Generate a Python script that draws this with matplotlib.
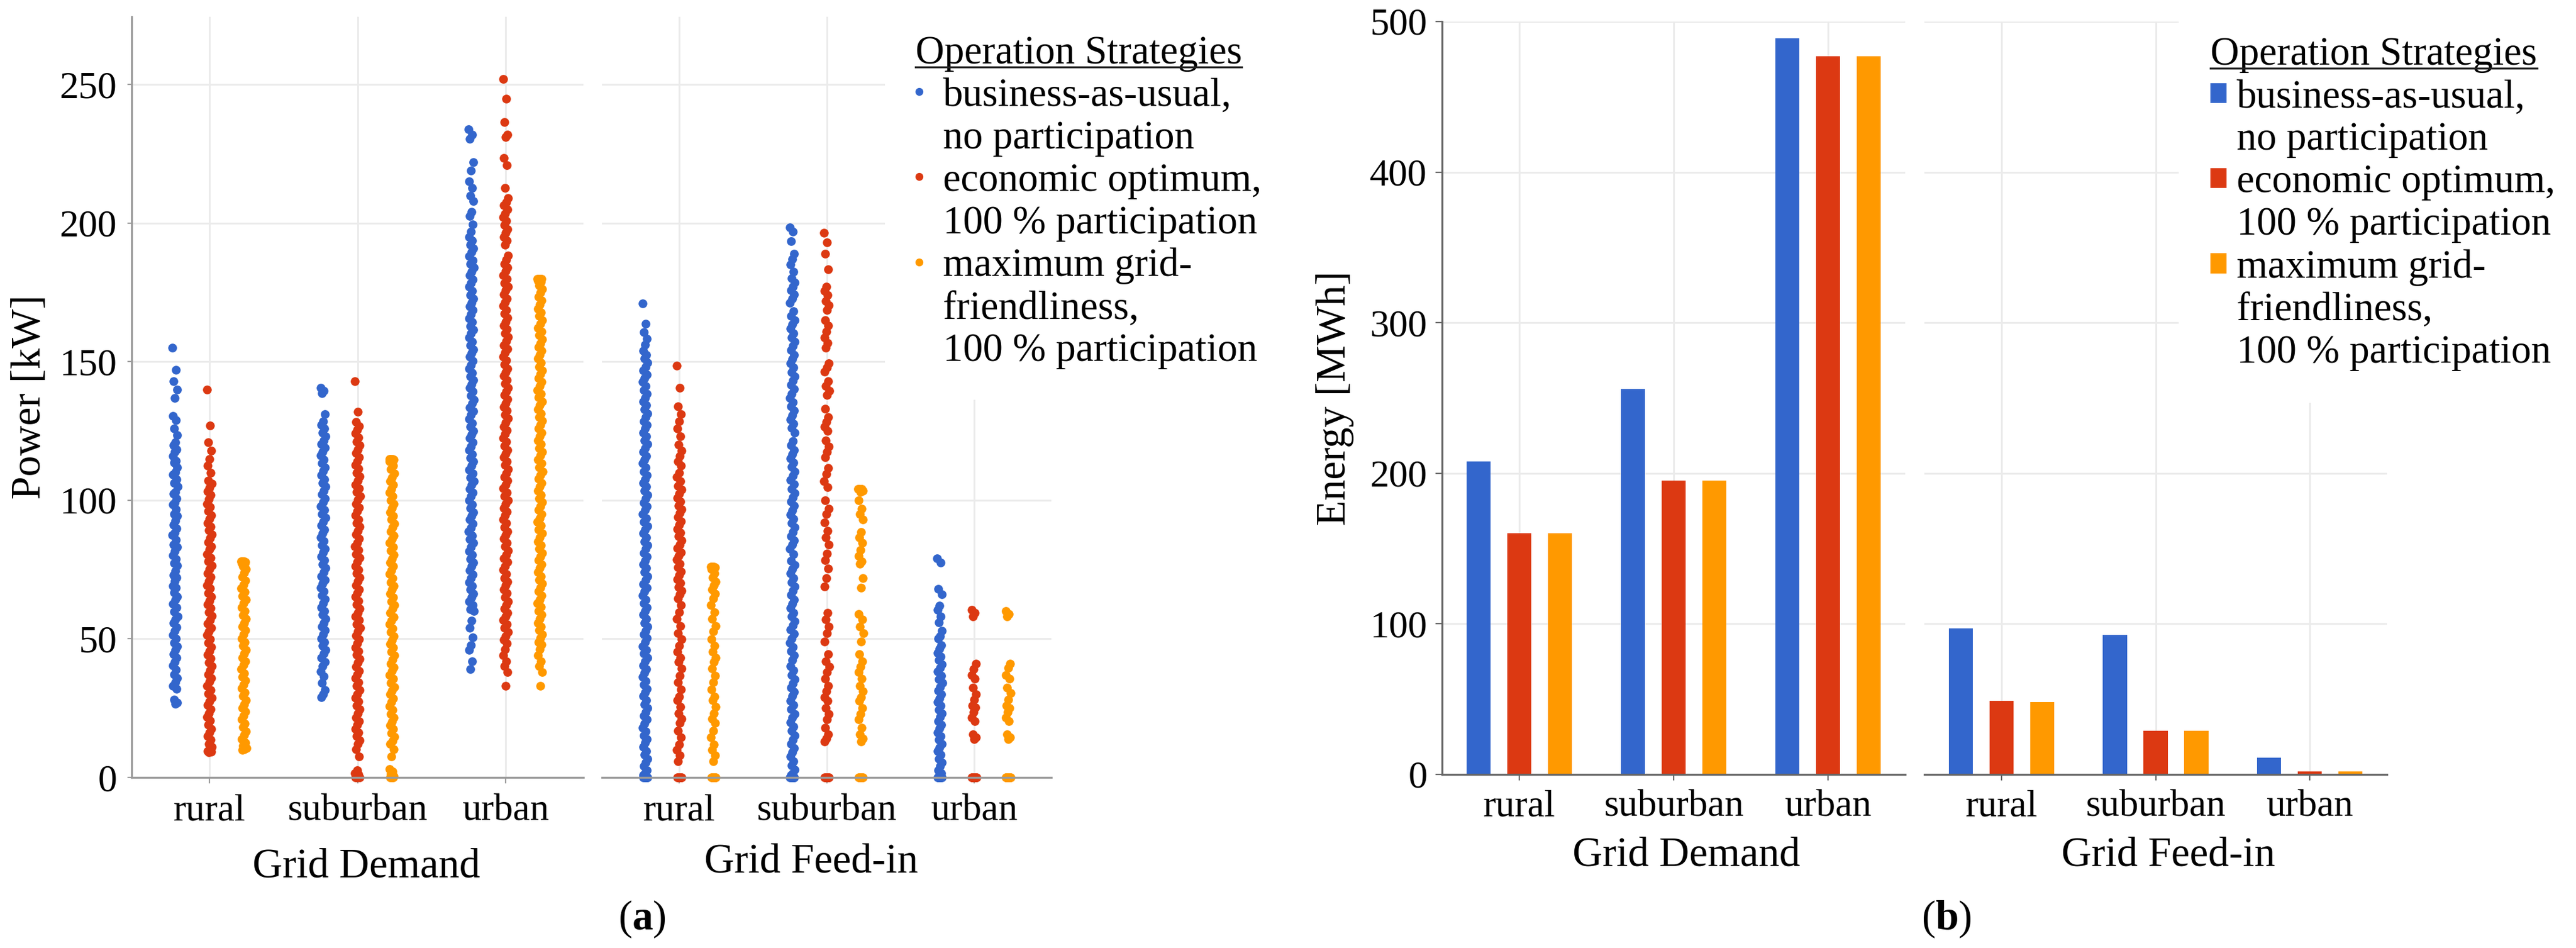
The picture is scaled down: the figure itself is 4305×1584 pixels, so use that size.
import numpy as np
import matplotlib
matplotlib.use('Agg')
import matplotlib.pyplot as plt
from matplotlib import font_manager
from matplotlib.lines import Line2D
from matplotlib.patches import Patch

# ---------------- data ----------------
categories = ['rural', 'suburban', 'urban']
colors = ['#3366CC', '#DC3912', '#FF9900']

# (a) power values [kW], grid demand
demand_rural_bau = [155, 147, 143, 140, 137, 130.5, 129, 126, 123.5, 121, 119.8, 118.4, 117.5, 115.9, 114.2, 113.6, 111.8, 110.1, 109.3, 107.6, 106.2, 104.9, 103.1, 102.4, 100.7, 99.2, 98.5, 96.8, 95.1, 94.3, 92.6, 91.2, 89.9, 88.3, 87.4, 85.8, 84.1, 83.2, 81.7, 80.1, 78.9, 77.3, 76.4, 74.6, 73.1, 72.2, 70.8, 69.1, 68.4, 66.7, 65.2, 64.1, 62.6, 61.3, 59.8, 58.2, 57.1, 55.7, 54.3, 52.9, 51.4, 50.2, 48.6, 47.3, 45.9, 44.5, 43.1, 41.6, 40.4, 38.8, 37.2, 35.9, 34.4, 33.1, 32.0, 28.0, 27.0, 26.5]
demand_rural_eco = [140, 127, 121, 118, 115, 112.5, 110, 107.2, 106.1, 104.6, 103.2, 101.9, 100.4, 98.8, 97.6, 96.1, 94.7, 93.3, 91.8, 90.5, 89.1, 87.6, 86.3, 84.9, 83.4, 82.2, 80.6, 79.3, 77.9, 76.4, 75.1, 73.6, 72.3, 70.9, 69.4, 68.2, 66.6, 65.3, 63.8, 62.5, 61.1, 59.6, 58.3, 56.9, 55.4, 54.1, 52.7, 51.3, 49.8, 48.5, 47.1, 45.6, 44.3, 42.9, 41.4, 40.1, 38.7, 37.2, 35.9, 34.5, 33.1, 31.6, 30.3, 28.8, 27.5, 26.1, 24.7, 23.2, 21.9, 20.5, 19.1, 17.6, 16.3, 14.8, 13.5, 12.1, 11.0, 10.3, 9.6, 9.2, 9.0]
demand_rural_grid = [78, 78, 78, 77.8, 77.6, 77.4, 77.1, 76.3, 75.1, 73.8, 72.4, 71.1, 69.6, 68.3, 66.9, 65.5, 64.2, 62.8, 61.3, 60.1, 58.6, 57.3, 55.8, 54.5, 53.1, 51.7, 50.2, 48.9, 47.5, 46.1, 44.7, 43.2, 41.9, 40.5, 39.1, 37.6, 36.3, 34.9, 33.4, 32.1, 30.7, 29.3, 27.9, 26.4, 25.1, 23.7, 22.3, 20.9, 19.4, 18.1, 16.7, 15.3, 13.9, 12.5, 11.4, 10.6, 10.2, 10.0]
demand_suburban_bau = [140.6, 139.5, 138.7, 131, 128.4, 127.3, 125.9, 124.4, 123.1, 121.7, 120.2, 118.9, 117.5, 116.1, 114.6, 113.3, 111.9, 110.5, 109.1, 107.6, 106.3, 104.9, 103.4, 102.1, 100.7, 99.3, 97.8, 96.5, 95.1, 93.7, 92.2, 90.9, 89.5, 88.1, 86.6, 85.3, 83.9, 82.4, 81.1, 79.7, 78.3, 76.8, 75.5, 74.1, 72.6, 71.3, 69.9, 68.5, 67.1, 65.6, 64.3, 62.9, 61.4, 60.1, 58.7, 57.3, 55.8, 54.5, 53.1, 51.7, 50.2, 48.9, 47.5, 46.1, 44.6, 43.3, 41.6, 40.1, 38.2, 36.4, 34.1, 31.6, 30.1, 29.0]
demand_suburban_eco = [143, 132, 128.2, 126.8, 125.4, 124.1, 122.6, 121.2, 119.8, 118.3, 117.0, 115.6, 114.1, 112.8, 111.4, 109.9, 108.6, 107.2, 105.7, 104.4, 103.0, 101.5, 100.2, 98.8, 97.3, 96.0, 94.6, 93.1, 91.8, 90.4, 88.9, 87.6, 86.2, 84.7, 83.4, 82.0, 80.5, 79.2, 77.8, 76.3, 75.0, 73.6, 72.1, 70.8, 69.4, 67.9, 66.6, 65.2, 63.7, 62.4, 61.0, 59.5, 58.2, 56.8, 55.3, 54.0, 52.6, 51.1, 49.8, 48.4, 46.9, 45.6, 44.2, 42.7, 41.4, 40.0, 38.5, 37.2, 35.8, 34.3, 33.0, 31.6, 30.1, 28.8, 27.4, 25.9, 24.6, 23.2, 21.7, 20.4, 19.0, 17.5, 16.2, 14.8, 13.4, 12.0, 10.1, 7.5, 2.6, 1.6, 1.0, 0.5, 0, 0, 0]
demand_suburban_grid = [115, 115, 115, 114.7, 114.4, 114.1, 112.6, 111.2, 109.8, 108.3, 107.0, 105.6, 104.1, 102.8, 101.4, 99.9, 98.6, 97.2, 95.7, 94.4, 93.0, 91.5, 90.2, 88.8, 87.3, 86.0, 84.6, 83.1, 81.8, 80.4, 78.9, 77.6, 76.2, 74.7, 73.4, 72.0, 70.5, 69.2, 67.8, 66.3, 65.0, 63.6, 62.1, 60.8, 59.4, 57.9, 56.6, 55.2, 53.7, 52.4, 51.0, 49.5, 48.2, 46.8, 45.3, 44.0, 42.6, 41.1, 39.8, 38.4, 36.9, 35.6, 34.2, 32.7, 31.4, 30.0, 28.5, 27.2, 25.8, 24.3, 23.0, 21.6, 20.1, 18.8, 17.4, 15.9, 14.6, 13.2, 12.0, 10.2, 7.6, 3.0, 2.1, 1.2, 0.5, 0, 0, 0]
demand_urban_bau = [234, 232, 230.5, 222, 219, 215, 212.7, 210, 208, 204, 202.6, 199.6, 197, 195.1, 193.8, 192.3, 190.9, 189.6, 188.1, 186.7, 185.4, 183.9, 182.5, 181.2, 179.7, 178.3, 177.0, 175.5, 174.1, 172.8, 171.3, 169.9, 168.6, 167.1, 165.7, 164.4, 162.9, 161.5, 160.2, 158.7, 157.3, 156.0, 154.5, 153.1, 151.8, 150.3, 148.9, 147.6, 146.1, 144.7, 143.4, 141.9, 140.5, 139.2, 137.7, 136.3, 135.0, 133.5, 132.1, 130.8, 129.3, 127.9, 126.6, 125.1, 123.7, 122.4, 120.9, 119.5, 118.2, 116.7, 115.3, 114.0, 112.5, 111.1, 109.8, 108.3, 106.9, 105.6, 104.1, 102.7, 101.4, 99.9, 98.5, 97.2, 95.7, 94.3, 93.0, 91.5, 90.1, 88.8, 87.3, 85.9, 84.6, 83.1, 81.7, 80.4, 78.9, 77.5, 76.2, 74.7, 73.3, 72.0, 70.5, 69.1, 67.8, 66.3, 64.9, 63.6, 62.1, 60.7, 60.0, 56.6, 54.0, 50.5, 47.7, 46.0, 42.0, 39.0]
demand_urban_eco = [252, 245, 236.5, 232, 231, 223.5, 221, 212.7, 209, 207.5, 206.5, 205, 203.5, 202.1, 200.8, 199.3, 197.9, 196.6, 195.1, 193.7, 192.2, 188.3, 186.9, 185.4, 184.1, 182.7, 181.2, 179.9, 178.5, 177.0, 175.7, 174.3, 172.8, 171.5, 170.1, 168.6, 167.3, 165.9, 164.4, 163.1, 161.7, 160.2, 158.9, 157.5, 156.0, 154.7, 153.3, 151.8, 150.5, 149.1, 147.6, 146.3, 144.9, 143.4, 142.1, 140.7, 139.2, 137.9, 136.5, 135.0, 133.7, 132.3, 130.8, 129.5, 128.1, 126.6, 125.3, 123.9, 122.4, 121.1, 119.7, 118.2, 116.9, 115.5, 114.0, 112.7, 111.3, 109.8, 108.5, 107.1, 105.6, 104.3, 102.9, 101.4, 100.1, 98.7, 97.2, 95.9, 94.5, 93.0, 91.7, 90.3, 88.8, 87.5, 86.1, 84.6, 83.3, 81.9, 80.4, 79.1, 77.7, 76.2, 74.9, 73.5, 72.0, 70.7, 69.3, 67.8, 66.5, 65.1, 63.6, 62.3, 60.9, 59.4, 58.1, 56.7, 55.2, 53.9, 52.5, 51.0, 49.7, 48.3, 46.2, 44.1, 42.0, 40.1, 38.0, 33.0]
demand_urban_grid = [180, 180, 180, 180, 179.6, 179.2, 178.8, 177.6, 176.3, 174.9, 173.4, 172.1, 170.7, 169.2, 167.9, 166.5, 165.0, 163.7, 162.3, 160.8, 159.5, 158.1, 156.6, 155.3, 153.9, 152.4, 151.1, 149.7, 148.2, 146.9, 145.5, 144.0, 142.7, 141.3, 139.8, 138.5, 137.1, 135.6, 134.3, 132.9, 131.4, 130.1, 128.7, 127.2, 125.9, 124.5, 123.0, 121.7, 120.3, 118.8, 117.5, 116.1, 114.6, 113.3, 111.9, 110.4, 109.1, 107.7, 106.2, 104.9, 103.5, 102.0, 100.7, 99.3, 97.8, 96.5, 95.1, 93.6, 92.3, 90.9, 89.4, 88.1, 86.7, 85.2, 83.9, 82.5, 81.0, 79.7, 78.3, 76.8, 75.5, 74.1, 72.6, 71.3, 69.9, 68.4, 67.1, 65.7, 64.2, 62.9, 61.5, 60.0, 58.7, 57.3, 55.8, 54.5, 53.1, 51.6, 50.3, 48.9, 48.0, 46.2, 44.1, 42.0, 40.1, 38.0, 33.0]

# (a) power values [kW], grid feed-in
feedin_rural_bau = [171, 163.7, 160.7, 158.2, 156.1, 154.0, 152.5, 151.1, 149.6, 148.2, 146.9, 145.4, 144.0, 142.7, 141.2, 139.8, 138.5, 137.0, 135.6, 134.3, 132.8, 131.4, 130.1, 128.6, 127.2, 125.9, 124.4, 123.0, 121.7, 120.2, 118.8, 117.5, 116.0, 114.6, 113.3, 111.8, 110.4, 109.1, 107.6, 106.2, 104.9, 103.4, 102.0, 100.7, 99.2, 97.8, 96.5, 95.0, 93.6, 92.3, 90.8, 89.4, 88.1, 86.6, 85.2, 83.9, 82.4, 81.0, 79.7, 78.2, 76.8, 75.5, 74.0, 72.6, 71.3, 69.8, 68.4, 67.1, 65.6, 64.2, 62.9, 61.4, 60.0, 58.7, 57.2, 55.8, 54.5, 53.0, 51.6, 50.3, 48.8, 47.4, 46.1, 44.6, 43.2, 41.9, 40.4, 39.0, 37.7, 36.2, 34.8, 33.5, 32.0, 30.6, 29.3, 27.8, 26.4, 25.1, 23.6, 22.2, 20.9, 19.4, 18.0, 16.7, 15.2, 13.8, 12.5, 11.0, 9.6, 8.3, 6.8, 5.4, 4.1, 2.6, 1.5, 0.8, 0, 0, 0, 0, 0, 0]
feedin_rural_eco = [148.6, 140.6, 134, 131, 128.5, 126, 123, 120, 118, 116, 114, 112.5, 110, 108.5, 107, 105.2, 103.8, 102.3, 100.9, 99.6, 98.1, 96.7, 95.4, 93.9, 92.5, 91.2, 89.7, 88.3, 87.0, 85.5, 84.1, 82.8, 81.3, 79.9, 78.6, 77.1, 75.7, 74.4, 72.9, 71.5, 70.2, 68.7, 67.3, 66.0, 64.5, 62.1, 59.6, 57.2, 54.7, 52.1, 49.8, 47.6, 45.4, 43.2, 41.7, 39.2, 36.8, 34.3, 31.7, 29.2, 27.9, 25.4, 23.1, 21.2, 19.6, 16.8, 14.4, 11.9, 10.0, 7.9, 5.8, 0, 0, 0, 0, 0, 0, 0, 0]
feedin_rural_grid = [76, 76, 76, 75.8, 75.5, 75.1, 73.6, 72.2, 70.7, 69.3, 67.8, 66.3, 64.5, 62.1, 59.6, 57.2, 54.7, 52.8, 49.9, 47.6, 45.4, 43.2, 41.7, 39.2, 36.8, 34.3, 31.7, 29.2, 27.9, 25.4, 23.1, 21.2, 19.6, 16.8, 14.4, 11.9, 10.0, 7.9, 5.8, 0, 0, 0, 0, 0, 0, 0, 0]
feedin_suburban_bau = [198.5, 197.0, 193.5, 189.0, 187.1, 185.0, 182.6, 180.1, 178.6, 177.2, 175.7, 174.3, 172.8, 171.3, 168.2, 166.6, 165.0, 163.5, 161.9, 160.3, 158.8, 157.2, 155.7, 154.1, 152.5, 151.0, 149.4, 147.9, 146.3, 144.8, 143.2, 141.6, 140.1, 138.5, 137.0, 135.4, 133.9, 132.3, 130.7, 129.2, 127.6, 126.1, 124.4, 121.3, 119.8, 118.2, 116.7, 115.1, 113.5, 112.0, 110.4, 108.9, 107.3, 105.8, 104.2, 102.6, 101.1, 99.5, 98.0, 96.4, 94.9, 93.3, 91.7, 90.2, 88.6, 87.1, 85.5, 84.0, 82.4, 80.6, 78.2, 76.7, 75.1, 73.6, 72.0, 70.4, 68.9, 67.3, 65.8, 64.2, 62.7, 61.1, 59.5, 58.0, 56.4, 54.9, 53.3, 51.8, 50.2, 48.6, 47.1, 45.5, 44.0, 42.3, 40.2, 38.6, 37.0, 35.5, 33.9, 32.4, 30.8, 29.3, 27.7, 26.1, 24.6, 23.0, 21.5, 19.9, 18.4, 16.8, 15.2, 13.7, 12.1, 10.6, 9.0, 7.5, 5.9, 4.3, 2.8, 1.6, 0.8, 0, 0, 0, 0, 0, 0]
feedin_suburban_eco = [196.5, 193.0, 189.0, 183.4, 177.0, 175.5, 174.0, 172.0, 170.3, 168.7, 165.0, 163.0, 161.0, 158.7, 156.8, 155.0, 149.5, 148.0, 146.4, 143.0, 141.2, 139.6, 138.0, 133.0, 130.0, 128.3, 126.6, 125.0, 121.6, 119.5, 117.5, 115.5, 111.7, 109.5, 107.0, 104.8, 100.0, 97.0, 95.0, 92.0, 89.0, 86.5, 84.0, 80.8, 78.4, 75.4, 72.0, 69.0, 59.4, 57.0, 54.5, 52.0, 49.0, 44.5, 42.0, 40.0, 38.0, 35.6, 33.0, 31.0, 29.0, 27.6, 25.0, 23.0, 21.0, 18.0, 15.6, 14.0, 13.0, 0, 0, 0, 0, 0, 0, 0, 0]
feedin_suburban_grid = [104, 104, 104, 103.5, 103, 100.0, 97.0, 95.0, 93.0, 88.5, 86.5, 84.7, 82.0, 80.0, 78.0, 77.0, 72.0, 68.5, 59.0, 57.0, 54.5, 52.0, 49.0, 44.5, 42.0, 40.0, 38.0, 35.6, 33.0, 31.0, 29.0, 27.6, 25.0, 23.0, 21.0, 18.0, 15.6, 14.0, 13.0, 0, 0, 0, 0, 0, 0, 0, 0]
feedin_urban_bau = [79, 77.5, 68, 66, 62, 60.5, 58, 56, 53, 51, 50, 47.7, 46.4, 45.0, 43.6, 42.3, 40.9, 39.5, 38.2, 36.8, 35.4, 34.1, 32.7, 31.3, 30.0, 28.6, 27.2, 25.9, 24.5, 23.1, 21.8, 20.4, 19.0, 17.7, 16.3, 14.9, 13.6, 12.2, 10.8, 9.5, 8.1, 6.7, 5.4, 4.0, 2.6, 1.5, 0.7, 0, 0, 0, 0, 0, 0]
feedin_urban_eco = [60.5, 59.5, 58.0, 41.0, 39.0, 37.0, 35.6, 32.4, 30.0, 28.0, 26.0, 25.3, 23.5, 21.5, 20.3, 15.6, 14.5, 13.8, 0, 0, 0, 0, 0, 0, 0, 0, 0, 0]
feedin_urban_grid = [60.0, 59.0, 58.0, 41.0, 39.5, 37.0, 35.6, 32.4, 30.5, 28.0, 26.0, 25.0, 23.5, 21.5, 20.3, 15.6, 14.5, 13.8, 0, 0, 0, 0, 0, 0, 0, 0, 0, 0]

# (b) energy values [MWh]
energy_demand_bau = [208, 256, 489]
energy_demand_eco = [160, 195, 477]
energy_demand_grid = [160, 195, 477]
energy_feedin_bau = [97, 92.5, 11]
energy_feedin_eco = [49, 29, 2]
energy_feedin_grid = [48, 29, 2]

power_ticks = [0, 50, 100, 150, 200, 250]
energy_ticks = [0, 100, 200, 300, 400, 500]

demand_groups = [[demand_rural_bau, demand_rural_eco, demand_rural_grid],
                 [demand_suburban_bau, demand_suburban_eco, demand_suburban_grid],
                 [demand_urban_bau, demand_urban_eco, demand_urban_grid]]
feedin_groups = [[feedin_rural_bau, feedin_rural_eco, feedin_rural_grid],
                 [feedin_suburban_bau, feedin_suburban_eco, feedin_suburban_grid],
                 [feedin_urban_bau, feedin_urban_eco, feedin_urban_grid]]
energy_demand = [energy_demand_bau, energy_demand_eco, energy_demand_grid]
energy_feedin = [energy_feedin_bau, energy_feedin_eco, energy_feedin_grid]

# ---------------- fonts ----------------
available = {f.name for f in font_manager.fontManager.ttflist}
serif_choice = next((n for n in ['Liberation Serif', 'DejaVu Serif', 'Noto Serif']
                     if n in available), 'DejaVu Serif')
plt.rcParams['font.family'] = [serif_choice, 'DejaVu Serif']
plt.rcParams['mathtext.fontset'] = 'custom'
plt.rcParams['mathtext.rm'] = serif_choice
plt.rcParams['mathtext.bf'] = serif_choice + ':bold'

W, H = 4305, 1584
fig = plt.figure(figsize=(W / 100, H / 100), dpi=100)


def rect(x0, x1, ytop, ybot):
    return [x0 / W, 1 - ybot / H, (x1 - x0) / W, (ybot - ytop) / H]


axA1 = fig.add_axes(rect(220, 975, 28, 1299))
axA2 = fig.add_axes(rect(1006, 1757, 28, 1299))
axB1 = fig.add_axes(rect(2410, 3184, 36, 1294))
axB2 = fig.add_axes(rect(3216, 3989, 36, 1294))

TICK_FS = 46
LAB_FS = 50
LEG_FS = 48
GRID_C = '#ebebeb'


def style(ax, show_y, spine_c, ylim, yticks, xlim, xpad, ypad, ytick_len):
    ax.set_xlim(*xlim)
    ax.set_ylim(*ylim)
    ax.set_xticks(range(len(categories)))
    ax.set_xticklabels(categories)
    ax.set_yticks(yticks)
    ax.set_axisbelow(True)
    ax.grid(True, color=GRID_C, linewidth=2.2)
    for s in ('top', 'right'):
        ax.spines[s].set_visible(False)
    ax.spines['bottom'].set_color(spine_c)
    ax.spines['bottom'].set_linewidth(2.4)
    ax.spines['left'].set_color(spine_c)
    ax.spines['left'].set_linewidth(2.4)
    ax.tick_params(axis='x', length=7, width=1.6, color=spine_c, pad=xpad,
                   labelsize=TICK_FS)
    if show_y:
        ax.tick_params(axis='y', length=ytick_len, width=1.6, color=spine_c,
                       pad=ypad, labelsize=TICK_FS)
    else:
        ax.spines['left'].set_visible(False)
        ax.tick_params(axis='y', left=False, labelleft=False)


style(axA1, True, '#9a9a9a', (0, 274.5), power_ticks, (-0.525, 2.525), 13, 13, 5)
style(axA2, False, '#9a9a9a', (0, 274.5), power_ticks, (-0.525, 2.525), 13, 13, 5)
style(axB1, True, '#666666', (0, 500), energy_ticks, (-0.5, 2.5), 11, 10, 8)
style(axB2, False, '#666666', (0, 500), energy_ticks, (-0.5, 2.5), 11, 10, 8)

# strip plots (deterministic jitter)
STRIP_OFF = 0.232
JIT = 0.017
for ax, groups in ((axA1, demand_groups), (axA2, feedin_groups)):
    for ci, grp in enumerate(groups):
        for si, vals in enumerate(grp):
            v = np.asarray(vals, dtype=float)
            jit = ((np.arange(len(v)) * 0.6180339887) % 1.0 - 0.5) * 2 * JIT
            ax.scatter(ci + (si - 1) * STRIP_OFF + jit, v, s=112, color=colors[si],
                       linewidths=0, zorder=2, clip_on=False)

# grouped bars
BAR_OFF = 0.264
BAR_W = 0.157
xpos = np.arange(len(categories))
for ax, data in ((axB1, energy_demand), (axB2, energy_feedin)):
    for si, vals in enumerate(data):
        ax.bar(xpos + (si - 1) * BAR_OFF, vals, width=BAR_W, color=colors[si], zorder=2)

# axis labels
axA1.set_ylabel('Power [kW]', fontsize=LAB_FS)
axA1.yaxis.set_label_coords((82 - 220) / 755, 0.5)
axB1.set_ylabel('Energy [MWh]', fontsize=LAB_FS)
axB1.yaxis.set_label_coords((2263 - 2410) / 774, 0.5)

for ax, txt, cx, x0, x1, top, y0, h in (
        (axA1, 'Grid Demand', 612, 220, 975, 1417, 1299, 1271),
        (axA2, 'Grid Feed-in', 1356, 1006, 1757, 1409, 1299, 1271),
        (axB1, 'Grid Demand', 2818, 2410, 3184, 1398, 1294, 1258),
        (axB2, 'Grid Feed-in', 3624, 3216, 3989, 1398, 1294, 1258)):
    ax.set_xlabel(txt, fontsize=LAB_FS)
    ax.xaxis.set_label_coords((cx - x0) / (x1 - x0), -(top - y0) / h)

fig.text(1073 / W, 1 - 1536 / H, r'($\mathbf{a}$)', ha='center', va='center', fontsize=LAB_FS)
fig.text(3253 / W, 1 - 1536 / H, r'($\mathbf{b}$)', ha='center', va='center', fontsize=LAB_FS)

# legends
leg_labels = ['business-as-usual,', 'no participation',
              'economic optimum,', '100 % participation',
              'maximum grid-', 'friendliness,', '100 % participation']
blank = Line2D([], [], linestyle='None', marker='None')


def dot(c):
    return Line2D([], [], linestyle='None', marker='o', markersize=9.5,
                  markerfacecolor=c, markeredgewidth=0)


def sq(c):
    return Patch(facecolor=c, edgecolor='none')


legA = fig.legend([dot(colors[0]), blank, dot(colors[1]), blank, dot(colors[2]), blank, blank],
                  leg_labels, loc='upper left', bbox_to_anchor=(1479 / W, 1 - 8 / H),
                  title='Operation Strategies', alignment='left', frameon=True,
                  facecolor='white', edgecolor='none', framealpha=1, fancybox=False,
                  borderpad=0.76, borderaxespad=0, handlelength=0.2, handletextpad=0.5,
                  labelspacing=0.15, fontsize=LEG_FS, title_fontsize=LEG_FS)
legB = fig.legend([sq(colors[0]), blank, sq(colors[1]), blank, sq(colors[2]), blank, blank],
                  leg_labels, loc='upper left', bbox_to_anchor=(3641 / W, 1 - 8 / H),
                  title='Operation Strategies', alignment='left', frameon=True,
                  facecolor='white', edgecolor='none', framealpha=1, fancybox=False,
                  borderpad=0.8, borderaxespad=0, handlelength=0.4, handleheight=0.4,
                  handletextpad=0.25, labelspacing=0.15, fontsize=LEG_FS,
                  title_fontsize=LEG_FS)

fig.canvas.draw()
for leg in (legA, legB):
    bb = leg.get_title().get_window_extent()
    yy = (bb.y0 + 8) / H
    fig.add_artist(Line2D([bb.x0 / W, bb.x1 / W], [yy, yy], transform=fig.transFigure,
                          color='#222222', linewidth=2.4, zorder=10))

fig.savefig('out.png', dpi=100)
